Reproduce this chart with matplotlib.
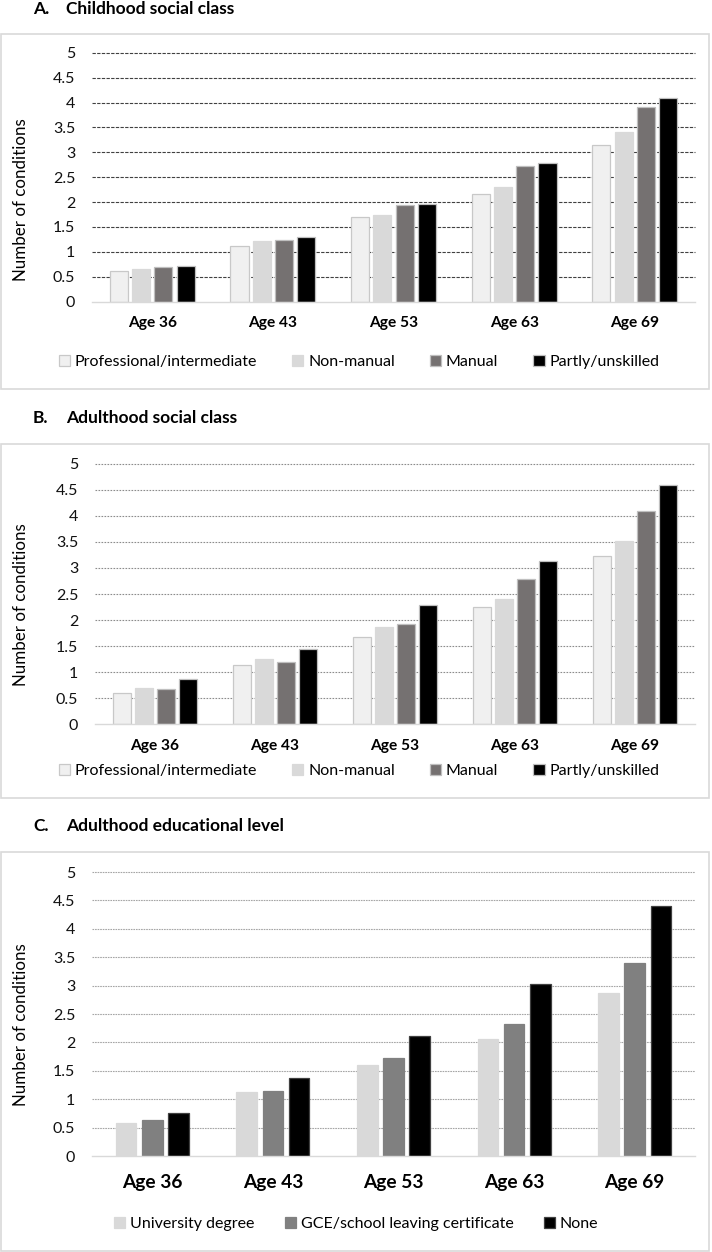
import matplotlib.pyplot as plt
import numpy as np
from matplotlib.patches import Rectangle

plt.rcParams['font.family'] = ['Lato', 'DejaVu Sans']

ages = ['Age 36', 'Age 43', 'Age 53', 'Age 63', 'Age 69']

# A. Childhood social class
class_labels = ['Professional/intermediate', 'Non-manual', 'Manual', 'Partly/unskilled']
child_prof = [0.62, 1.12, 1.71, 2.17, 3.14]
child_nonman = [0.65, 1.22, 1.74, 2.31, 3.40]
child_manual = [0.70, 1.24, 1.94, 2.73, 3.90]
child_partly = [0.72, 1.29, 1.96, 2.78, 4.09]

# B. Adulthood social class
adult_prof = [0.59, 1.14, 1.67, 2.25, 3.24]
adult_nonman = [0.69, 1.25, 1.87, 2.40, 3.51]
adult_manual = [0.67, 1.19, 1.92, 2.79, 4.10]
adult_partly = [0.86, 1.44, 2.28, 3.13, 4.60]

# C. Adulthood educational level
edu_labels = ['University degree', 'GCE/school leaving certificate', 'None']
edu_univ = [0.58, 1.13, 1.61, 2.06, 2.87]
edu_gce = [0.63, 1.15, 1.73, 2.33, 3.39]
edu_none = [0.76, 1.37, 2.12, 3.02, 4.41]

W, H = 712, 1252
fig = plt.figure(figsize=(W / 100, H / 100), dpi=100)


def fx(px):
    return px / W


def fy(py):
    return 1 - py / H


def panel(box, title_y, title, plot, series, labels, colors, edges,
          width, grid_style, xfont, ylab_y, leg_y, leg_x, colspace):
    # frame around each panel
    fig.patches.append(Rectangle((fx(box[0]), fy(box[3])), fx(box[2] - box[0]),
                                 (box[3] - box[1]) / H, transform=fig.transFigure,
                                 fill=False, edgecolor='#D9D9D9', linewidth=1.2))
    letter, name = title
    fig.text(fx(33), fy(title_y), letter, fontsize=12.5, fontweight='bold', va='center')
    fig.text(fx(66), fy(title_y), name, fontsize=12.5, fontweight='bold', va='center')

    l, t, r, b = plot
    ax = fig.add_axes([fx(l), fy(b), fx(r - l), (b - t) / H])
    x = np.arange(len(ages))
    n = len(series)
    step = width * (1.23 if n == 4 else 1.28)
    handles = []
    for i, (vals, lab, c, e) in enumerate(zip(series, labels, colors, edges)):
        pos = x + (i - (n - 1) / 2) * step
        h = ax.bar(pos, vals, width, color=c, edgecolor=e, linewidth=0.9,
                   label=lab, zorder=3)
        handles.append(h)
    ax.set_ylim(0, 5)
    ax.set_xlim(-0.5, len(ages) - 0.5)
    ax.set_yticks(np.arange(0, 5.01, 0.5))
    ax.set_yticklabels(['0', '0.5', '1', '1.5', '2', '2.5', '3', '3.5', '4', '4.5', '5'])
    ax.set_xticks(x)
    ax.set_xticklabels(ages, fontweight='bold', fontsize=xfont)
    ax.tick_params(axis='y', length=0, pad=12, labelsize=11.5, colors='#111111')
    ax.tick_params(axis='x', length=0, pad=xfont * 0.95)
    color, ls, lw = grid_style
    for v in np.arange(0.5, 5.01, 0.5):
        ax.axhline(v, color=color, linestyle=ls, linewidth=lw, zorder=1, clip_on=False)
    for s in ['top', 'right', 'left']:
        ax.spines[s].set_visible(False)
    ax.spines['bottom'].set_color('#D9D9D9')
    ax.spines['bottom'].set_linewidth(1.0)
    ax.spines['bottom'].set_zorder(4)
    fig.text(fx(21), fy(ylab_y), 'Number of conditions', rotation=90,
             fontsize=12.2, va='center', ha='center')
    fig.legend(handles=handles, labels=labels, loc='center',
               bbox_to_anchor=(fx(leg_x), fy(leg_y)), ncol=n, frameon=False,
               fontsize=11.5, handlelength=0.7, handleheight=0.7,
               handletextpad=0.3, columnspacing=colspace)
    return ax


grey4 = ['#F0F0F0', '#D9D9D9', '#757171', '#000000']
edge4 = ['#C8C8C8', '#D9D9D9', '#BFBFBF', '#BFBFBF']

panel((1, 34, 709, 389), 9, ('A.', 'Childhood social class'),
      (92, 52.7, 695, 301.7),
      [child_prof, child_nonman, child_manual, child_partly], class_labels,
      grey4, edge4, 0.15, ('#404040', (0, (3, 1.2)), 0.8), 11.2, 200, 362, 359, 2.2)

panel((1, 444, 709, 798), 418, ('B.', 'Adulthood social class'),
      (95, 464, 695, 724),
      [adult_prof, adult_nonman, adult_manual, adult_partly], class_labels,
      grey4, edge4, 0.15, ('#8C8C8C', (0, (1.5, 1.2)), 0.8), 11.2, 605, 771, 359, 2.2)

panel((1, 852, 709, 1251), 826, ('C.', 'Adulthood educational level'),
      (92, 872, 695, 1156),
      [edu_univ, edu_gce, edu_none], edu_labels,
      ['#D9D9D9', '#808080', '#000000'], ['#D9D9D9', '#808080', '#404040'],
      0.17, ('#A6A6A6', (0, (1.5, 0.8)), 0.8), 13.8, 1025, 1224, 356, 1.9)

fig.savefig('out.png', dpi=100)
